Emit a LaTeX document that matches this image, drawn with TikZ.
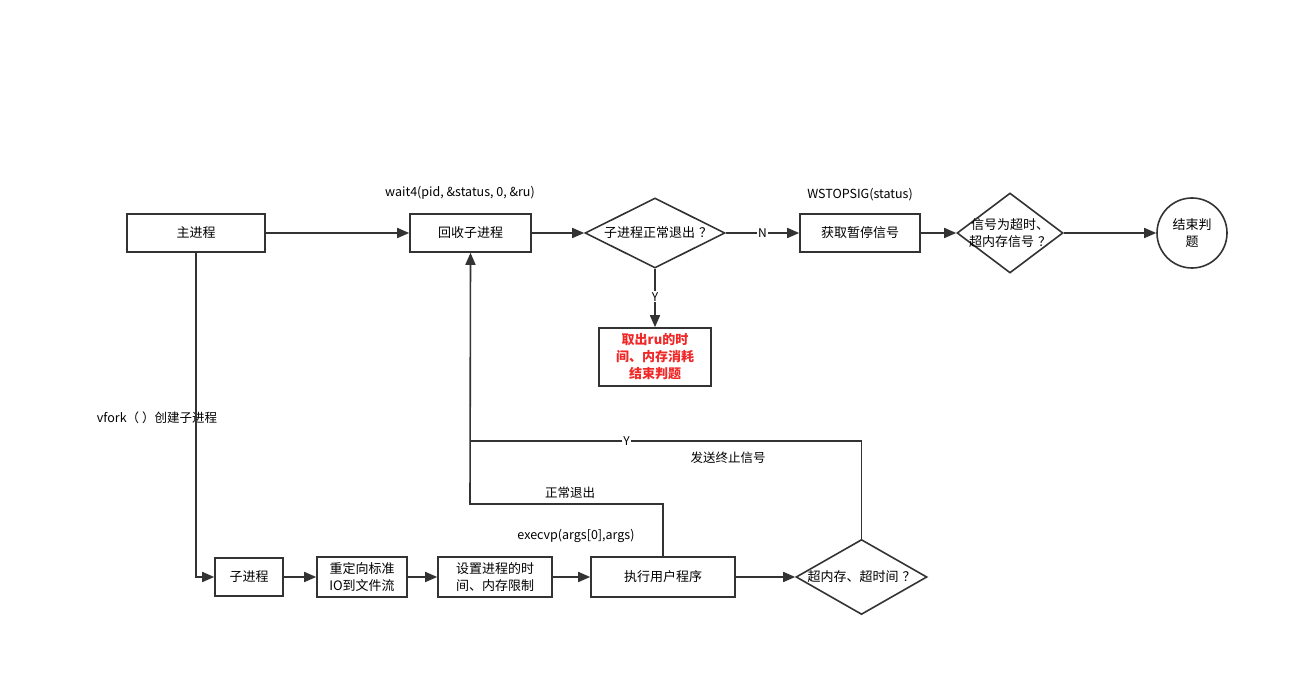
\documentclass[tikz,border=0pt]{standalone}
\usepackage{fontspec}
\setmainfont{Noto Sans CJK SC}
\usetikzlibrary{shapes.geometric,arrows.meta}
\definecolor{ln}{RGB}{51,51,51}
\definecolor{rd}{RGB}{240,40,40}
\newcommand{\qm}{\hspace{4pt}？}
\tikzset{
  every node/.style={font=\fontsize{13}{17}\selectfont, text=black},
  box/.style={draw=ln, line width=1.6pt, fill=white, inner sep=0pt, align=center},
  dia/.style={draw=ln, line width=1.6pt, diamond, inner sep=0pt, fill=white},
  txt/.style={align=center, inner sep=0pt},
  conn/.style={draw=ln, line width=1.6pt, -{Triangle[length=12pt,width=10pt]}},
  plain/.style={draw=ln, line width=1.6pt},
  lbl/.style={fill=white, inner sep=1pt, font=\fontsize{12}{14}\selectfont},
  ann/.style={inner sep=0pt, font=\fontsize{12.5}{14}\selectfont}
}
\begin{document}
\begin{tikzpicture}[x=1pt,y=-1pt]
\useasboundingbox[fill=white] (0,0) rectangle (1289,676);
% top row
\node[box, minimum width=138, minimum height=38] (main) at (196,233) {主进程};
\node[box, minimum width=121, minimum height=38] (reap) at (470.5,233) {回收子进程};
\node[dia, minimum width=140, minimum height=70] (d1) at (655,233) {};
\node[txt] at (658,233) {子进程正常退出\qm};
\node[box, minimum width=120, minimum height=38] (stop) at (860,233) {获取暂停信号};
\node[dia, minimum width=106, minimum height=80] (d2) at (1010,233) {};
\node[txt] at (d2) {信号为超时、\\超内存信号\qm};
\node[draw=ln, line width=1.6pt, circle, minimum size=70, inner sep=0pt, align=center] (end) at (1192,233) {结束判\\题};
\node[box, minimum width=112, minimum height=58, text=rd, font=\fontsize{13}{17}\selectfont\bfseries] (ru) at (655,357) {取出ru的时\\间、内存消耗\\结束判题};
% bottom row
\node[box, minimum width=68, minimum height=38] (child) at (249,577) {子进程};
\node[box, minimum width=90, minimum height=40] (redir) at (362,577) {重定向标准\\IO到文件流};
\node[box, minimum width=114, minimum height=40] (limit) at (495,577) {设置进程的时\\间、内存限制};
\node[box, minimum width=144, minimum height=40] (exec) at (663,577) {执行用户程序};
\node[dia, minimum width=131, minimum height=75] (d3) at (861.5,577) {};
\node[txt] at (d3) {超内存、超时间\qm};
% annotations
\node[ann] (a1) at (460,193) {wait4(pid, \&status, 0, \&ru)};
\node[ann] (a2) at (860,195) {WSTOPSIG(status)};
\node[ann] (a3) at (157,418) {vfork（ ）创建子进程};
\node[ann] (a4) at (570,493) {正常退出};
\node[ann] (a5) at (576,536) {execvp(args[0],args)};
\node[ann] (a6) at (728,458) {发送终止信号};
% coordinates
\coordinate (c1) at (196,577);
\coordinate (c2) at (663,504);
\coordinate (c3) at (470,504);
\coordinate (c4) at (861.5,441);
\coordinate (c5) at (470,441);
% connectors
\draw[conn] (main) -- (reap);
\draw[conn] (reap) -- (d1);
\draw[conn] (d1) -- node[lbl] {N} (stop);
\draw[conn] (stop) -- (d2);
\draw[conn] (d2) -- (end);
\draw[conn] (d1) -- node[lbl, pos=0.48] {Y} (ru);
\draw[conn] (main.south) -- (c1) -- (child);
\draw[conn] (child) -- (redir);
\draw[conn] (redir) -- (limit);
\draw[conn] (limit) -- (exec);
\draw[conn] (exec) -- (d3);
\draw[conn] (exec.north) -- (c2) -- (c3) -- (reap.south);
\draw[plain] (d3.north) -- (c4) -- node[lbl, pos=0.6] {Y} (c5);
\end{tikzpicture}
\end{document}
